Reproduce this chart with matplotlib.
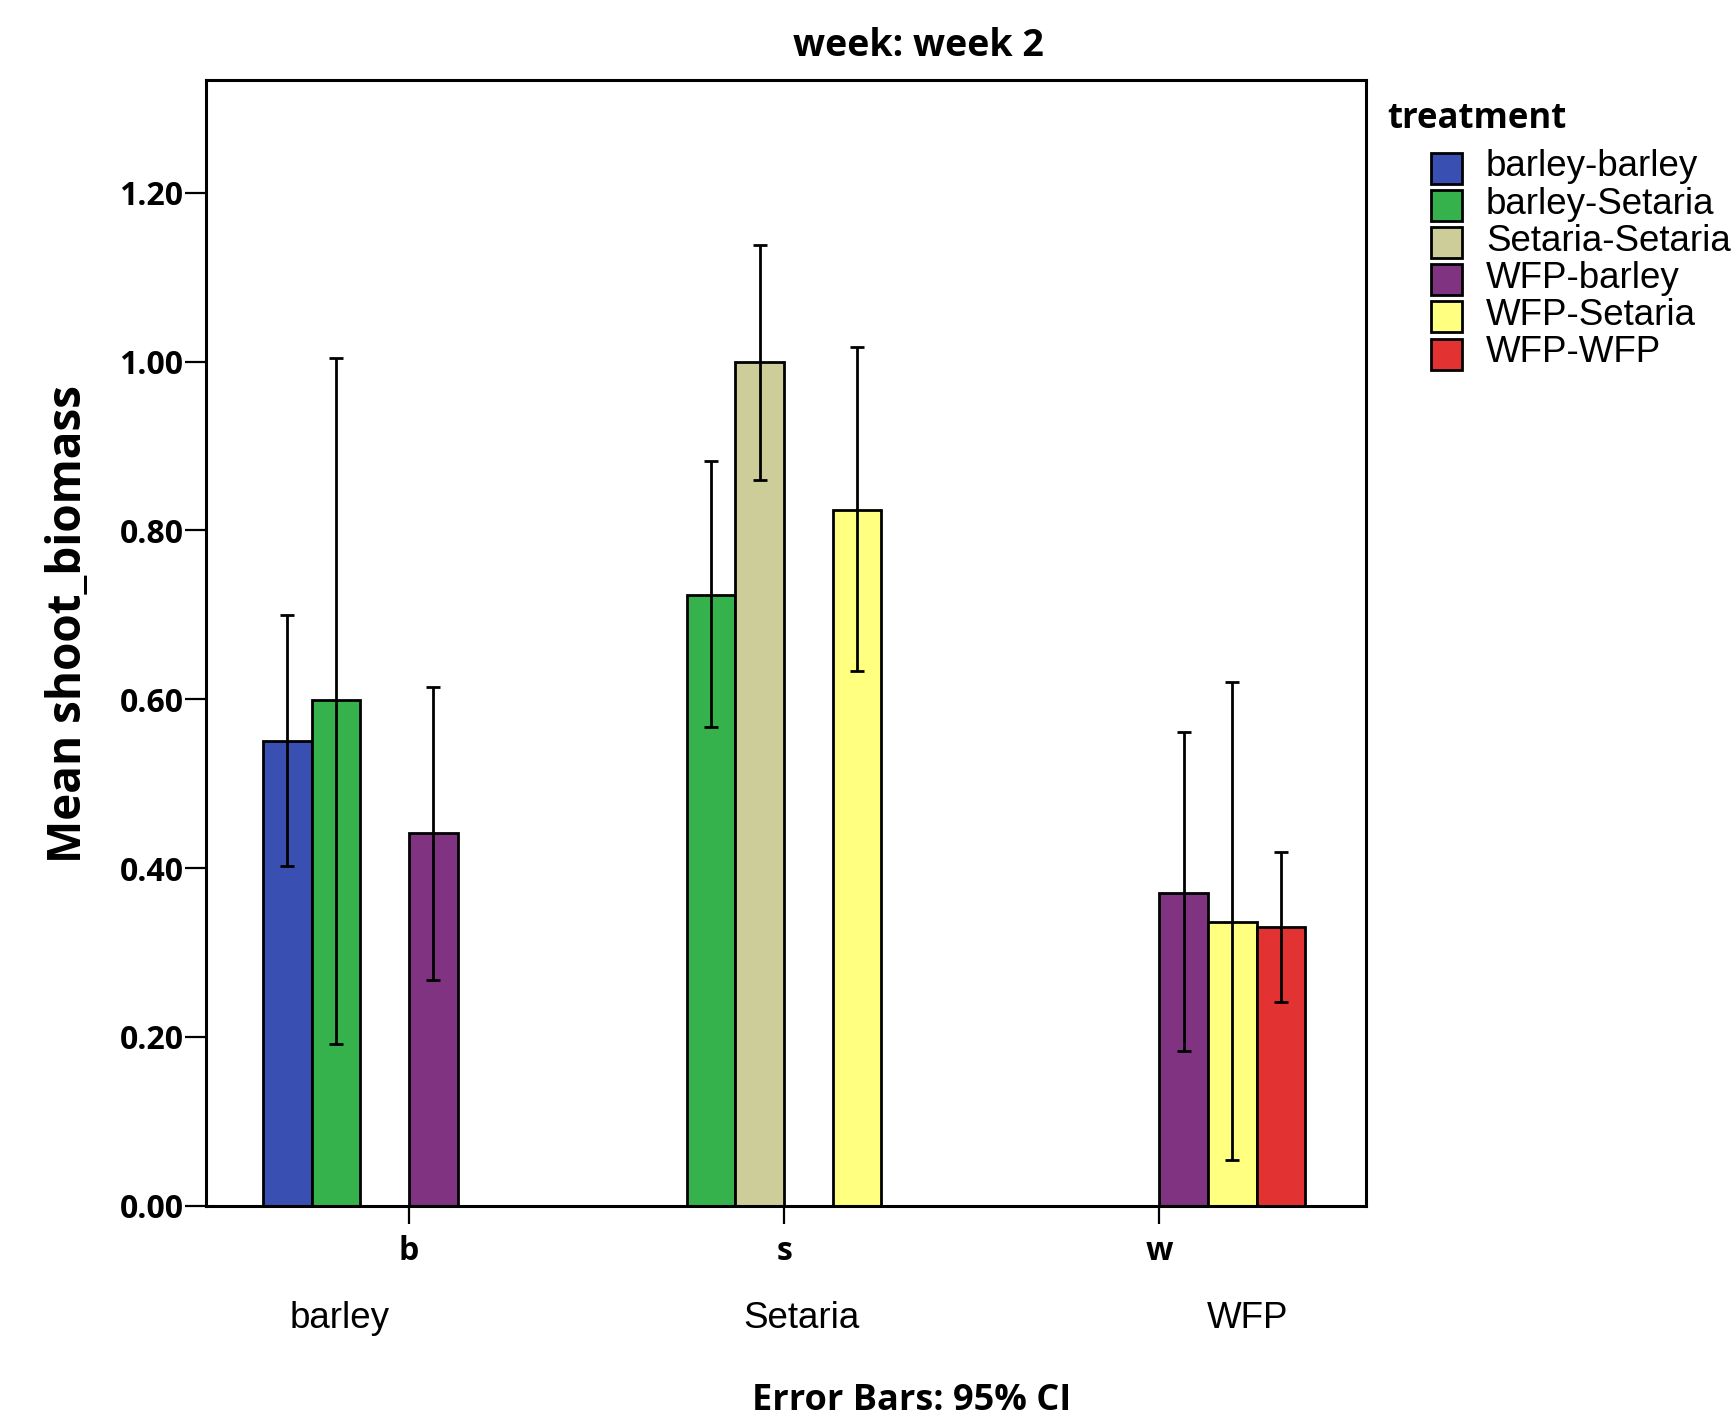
import numpy as np
import matplotlib
matplotlib.use("Agg")
import matplotlib.pyplot as plt
import matplotlib.transforms as mtransforms
from matplotlib.patches import Rectangle

nan = np.nan

# ---- data ----
groups = ["b", "s", "w"]
group_names = ["barley", "Setaria", "WFP"]
treatments = ["barley-barley", "barley-Setaria", "Setaria-Setaria",
              "WFP-barley", "WFP-Setaria", "WFP-WFP"]
colors = ["#3a4fb2", "#35b24b", "#cdcd99", "#7f3380", "#ffff80", "#e33232"]

mean_bb = [0.551, nan, nan]
mean_bS = [0.599, 0.724, nan]
mean_SS = [nan, 1.000, nan]
mean_Wb = [0.441, nan, 0.370]
mean_WS = [nan, 0.824, 0.336]
mean_WW = [nan, nan, 0.330]

lo_bb = [0.403, nan, nan]
lo_bS = [0.192, 0.567, nan]
lo_SS = [nan, 0.860, nan]
lo_Wb = [0.267, nan, 0.183]
lo_WS = [nan, 0.633, 0.054]
lo_WW = [nan, nan, 0.241]

hi_bb = [0.700, nan, nan]
hi_bS = [1.004, 0.882, nan]
hi_SS = [nan, 1.138, nan]
hi_Wb = [0.614, nan, 0.561]
hi_WS = [nan, 1.017, 0.620]
hi_WW = [nan, nan, 0.419]

yticks = [0.0, 0.2, 0.4, 0.6, 0.8, 1.0, 1.2]
ytick_labels = ["0.00", "0.20", "0.40", "0.60", "0.80", "1.00", "1.20"]

means = [mean_bb, mean_bS, mean_SS, mean_Wb, mean_WS, mean_WW]
los = [lo_bb, lo_bS, lo_SS, lo_Wb, lo_WS, lo_WW]
his = [hi_bb, hi_bS, hi_SS, hi_Wb, hi_WS, hi_WW]

# ---- figure ----
W, H = 1733, 1424
fig = plt.figure(figsize=(W / 100, H / 100), dpi=100)
ax = fig.add_axes([205.6 / W, 1 - 1205.8 / H, (1366 - 205.6) / W, (1205.8 - 79.6) / H])

BOLD = ["Open Sans", "DejaVu Sans"]
REG = ["Liberation Sans", "DejaVu Sans"]

x = np.arange(len(groups))
bw = 0.1296
n = len(treatments)
for k in range(n):
    m = np.array(means[k], dtype=float)
    lo = np.array(los[k], dtype=float)
    hi = np.array(his[k], dtype=float)
    xs = x - (n / 2) * bw + (k + 0.5) * bw
    ok = ~np.isnan(m)
    ax.bar(xs[ok], m[ok], width=bw, color=colors[k], edgecolor="black",
           linewidth=2.0, zorder=2)
    ax.errorbar(xs[ok], m[ok], yerr=[m[ok] - lo[ok], hi[ok] - m[ok]],
                fmt="none", ecolor="black", elinewidth=2.0, capsize=4.7,
                capthick=2.0, zorder=3)

ax.set_xlim(-0.542, 2.551)
ax.set_ylim(0, 1.334)
ax.set_yticks(yticks)
ax.set_yticklabels(ytick_labels, family=BOLD, fontweight="bold", fontsize=23)
ax.set_xticks(x)
ax.set_xticklabels(groups, family=BOLD, fontweight="bold", fontsize=23)
ax.tick_params(axis="y", direction="out", length=15, width=1.6, pad=1)
ax.tick_params(axis="x", direction="out", length=13, width=1.6, pad=8)
for sp in ax.spines.values():
    sp.set_linewidth(2.2)

# category names under tick labels
trans = mtransforms.blended_transform_factory(ax.transData, fig.transFigure)
for xpos, name in zip([-0.186, 1.046, 2.236], group_names):
    ax.text(xpos, 1 - 1318 / H, name, transform=trans, ha="center", va="center",
            family=REG, fontsize=26.5)

fig.text(68.5 / W, 1 - 624 / H, "Mean shoot_biomass", rotation=90, ha="center",
         va="center", family=BOLD, fontweight="bold", fontsize=33)
fig.text(918.5 / W, 1 - 46.4 / H, "week: week 2", ha="center", va="center",
         family=BOLD, fontweight="bold", fontsize=27)
fig.text(912 / W, 1 - 1401 / H, "Error Bars: 95% CI", ha="center", va="center",
         family=BOLD, fontweight="bold", fontsize=26)

# legend
fig.text(1387 / W, 1 - 119 / H, "treatment", ha="left", va="center",
         family=BOLD, fontweight="bold", fontsize=25)
for i, (lab, col) in enumerate(zip(treatments, colors)):
    cy = 168 + i * 37.2
    fig.patches.append(Rectangle((1431 / W, 1 - (cy + 15.5) / H), 31 / W, 31 / H,
                                 transform=fig.transFigure, facecolor=col,
                                 edgecolor="black", linewidth=2.0))
    fig.text(1486 / W, 1 - (cy - 1) / H, lab, ha="left", va="center",
             family=REG, fontsize=26.5)

fig.savefig("out.png", dpi=100, facecolor="white")
